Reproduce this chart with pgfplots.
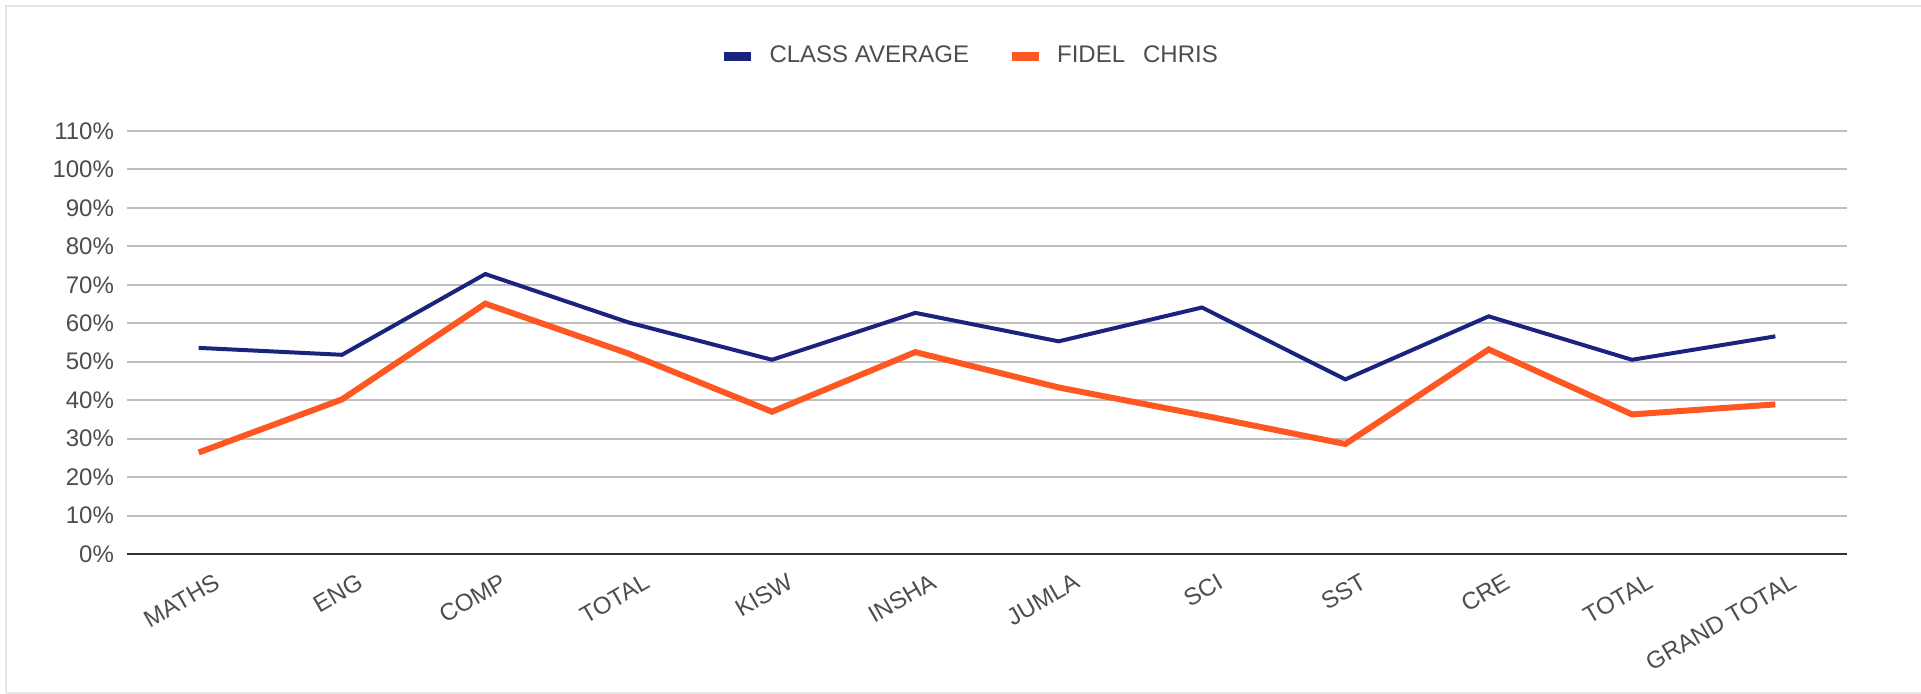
\documentclass[border=0pt]{standalone}
\usepackage{pgfplots}
\pgfplotsset{compat=1.18}
\usepackage{fontspec}
\setmainfont{Liberation Sans}
\definecolor{navy}{HTML}{1A237E}
\definecolor{orng}{HTML}{FF5722}
\definecolor{txt}{HTML}{4D4D4D}
\definecolor{grid}{HTML}{D4D4D4}
\begin{document}
\begin{tikzpicture}[x=1pt,y=1pt]
\useasboundingbox (0,0) rectangle (960.5,347);
\draw[color=black!10, line width=1pt] (2.75,0.5) -- (2.75,343.75) -- (960.5,343.75);
\draw[color=black!10, line width=1pt] (2.75,0.5) -- (960.5,0.5);
\begin{axis}[
  at={(63.5pt,70pt)}, anchor=south west,
  scale only axis, width=860pt, height=211.5pt,
  xmin=-0.5, xmax=11.5, ymin=0, ymax=110,
  xtick={0,...,11},
  xticklabels={MATHS,ENG,COMP,TOTAL,KISW,INSHA,JUMLA,SCI,SST,CRE,TOTAL,GRAND TOTAL},
  ytick={0,10,...,110},
  yticklabel={\pgfmathprintnumber{\tick}\%},
  /pgf/number format/assume math mode=true,
  axis line style={draw=none},
  xmajorgrids=false,
  ymajorgrids=true, major grid style={grid, line width=1pt},
  major tick length=0pt,
  tick label style={font=\fontsize{12}{14}\selectfont, text=txt},
  yticklabel style={xshift=-3pt},
  xticklabel style={rotate=30, anchor=north east, yshift=-8pt, xshift=5pt},
  clip=false,
  legend style={at={(axis description cs:0.4905,1.177)}, anchor=center, draw=none,
    legend columns=2, font=\fontsize{12}{14}\selectfont, text=txt,
    /tikz/every odd column/.append style={column sep=5pt},
    /tikz/every even column/.append style={column sep=17pt}},
  legend cell align=left,
  legend image code/.code={\draw[#1, line width=4.5pt] (0pt,0pt) -- (13.5pt,0pt);},
]
\draw[color=black!80, line width=1pt] (axis cs:-0.5,0) -- (axis cs:11.5,0);
\addplot[navy, line width=2pt] coordinates {
(0,53.6) (1,51.8) (2,72.8) (3,60.2) (4,50.5) (5,62.7) (6,55.3) (7,64.1) (8,45.4) (9,61.8) (10,50.5) (11,56.6)};
\addlegendentry{CLASS AVERAGE}
\addplot[orng, line width=3pt] coordinates {
(0,26.4) (1,40.2) (2,65.1) (3,52.1) (4,37.0) (5,52.5) (6,43.3) (7,36.1) (8,28.6) (9,53.2) (10,36.3) (11,38.9)};
\addlegendentry{FIDEL\hspace{0.75em}CHRIS}
\end{axis}
\end{tikzpicture}
\end{document}
